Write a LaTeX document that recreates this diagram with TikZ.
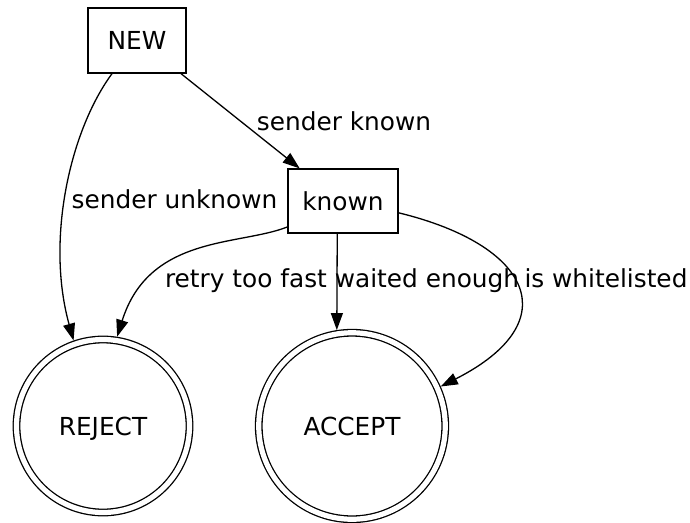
\documentclass[tikz,border=0pt]{standalone}
\usepackage{fontspec}
\setmainfont{DejaVu Sans}
\usetikzlibrary{arrows.meta}

\begin{document}
\begin{tikzpicture}[x=1pt,y=-1pt,line width=1.3pt,
  every node/.style={font=\fontsize{24.8}{30}\selectfont,inner sep=0pt},
  state/.style={draw,rectangle,minimum width=98pt,minimum height=65pt,text height=18pt,text depth=0pt},
  final/.style={draw,circle,double,double distance=5.2pt,outer sep=3.9pt,text height=18pt,text depth=0pt},
  lbl/.style={anchor=base},
  edge/.style={-{Triangle[length=17pt,width=12pt]}}]
\useasboundingbox (0,0) rectangle (690,522);
\node[state] (new) at (137,40.5) {NEW};
\node[state,minimum width=110pt,minimum height=64pt] (known) at (343,201) {known};
\node[final,minimum size=173pt] (reject) at (103,426) {REJECT};
\node[final,minimum size=186.5pt] (accept) at (352,426) {ACCEPT};
\draw[edge] (new.-37) -- (known.143.3);
\draw[edge] (new.-127.6) .. controls +(-42,57) and +(-28,-101) .. (reject.109.4);
\draw[edge] (known.-155.6) .. controls +(-48,19) and +(32,-102) .. (reject.81);
\draw[edge] (known.-100.6) -- (accept.99.5);
\draw[edge] (known.-12.3) .. controls +(132,32) and +(128,-65) .. (accept.24.5);
\node[lbl] (lknown) at (344,130) {sender known};
\node[lbl] (lunknown) at (174.5,208) {sender unknown};
\node[lbl] (lretry) at (246,287) {retry too fast};
\node[lbl] (lwaited) at (427,287) {waited enough};
\node[lbl] (lwhite) at (606,287) {is whitelisted};
\end{tikzpicture}
\end{document}
